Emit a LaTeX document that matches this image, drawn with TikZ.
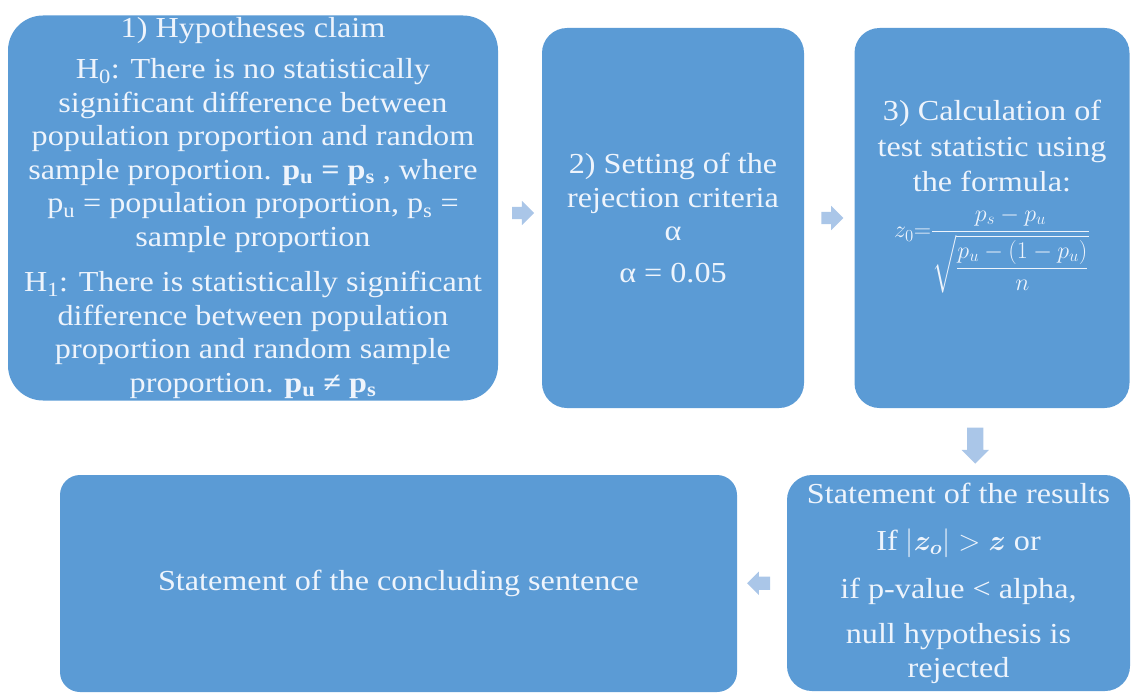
\documentclass[tikz,border=0pt]{standalone}
\usepackage{fix-cm}
\usepackage{amsmath,amssymb}
\usepackage{fontspec}
\setmainfont{Liberation Serif}[FakeStretch=1.11]
\usepackage{tikz}
\usetikzlibrary{calc,shapes.arrows}
\definecolor{boxblue}{RGB}{91,155,213}
\definecolor{boxtext}{RGB}{238,244,252}
\definecolor{arrowblue}{RGB}{170,198,232}
\tikzset{
% Two styles for the flow chart: step boxes and small block arrows
step box/.style={rectangle,rounded corners=25,fill=boxblue,text=boxtext,align=center,inner sep=0,font=\fontsize{29}{33.5}\selectfont},
flow arrow/.style={single arrow,fill=arrowblue,inner xsep=0,inner ysep=6,minimum height=22,single arrow head extend=6}
}

\begin{document}
\begin{tikzpicture}[x=1pt,y=-1pt]
        \useasboundingbox (0,0) rectangle (1134,693);
        % The steps
        \node(hyp)[step box,minimum width=490,minimum height=385,rounded corners=35] at (253,208){1) Hypotheses claim\\[8pt]
          H\textsubscript{0}: There is no statistically\\
          significant difference between\\
          population proportion and random\\
          sample proportion. \textbf{p\textsubscript{u} = p\textsubscript{s}} , where\\
          p\textsubscript{u} = population proportion, p\textsubscript{s} =\\
          sample proportion\\[12pt]
          H\textsubscript{1}: There is statistically significant\\
          difference between population\\
          proportion and random sample\\
          proportion. \textbf{p\textsubscript{u} ≠ p\textsubscript{s}}};
        \node(rej)[step box,minimum width=262,minimum height=380] at (673,218){2) Setting of the\\
          rejection criteria\\ α\\[8pt] α = 0.05};
        \node(calc)[step box,minimum width=275,minimum height=380] at (992,218){};
        \node(calc text)[text=boxtext,align=center,anchor=north,font=\fontsize{29}{35.5}\selectfont] at (992,97){3) Calculation of\\
          test statistic using\\ the formula:\\[10pt]
          {\fontsize{24}{28}\selectfont$z_0{=}\dfrac{p_s - p_u}{\sqrt{\dfrac{p_u -(1-p_u)}{n}}}$}};
        \node(res)[step box,minimum width=343,minimum height=216] at (958.5,583){Statement of the results\\[14pt]
          If $|\boldsymbol{z_o}| > \boldsymbol{z}$ or\\[14pt]
          if p-value < alpha,\\[12pt]
          null hypothesis is\\ rejected};
        \node(conc)[step box,minimum width=677,minimum height=217,rounded corners=20] at (398.5,583.5){Statement of the concluding sentence};
        % Block arrows between the steps
        \node(a1)[flow arrow] at ($(hyp.east)!.5!(rej.west)$){};
        \node(a2)[flow arrow] at ($(rej.east)!.5!(calc.west)$){};
        \node(a3)[flow arrow,shape border rotate=270,inner xsep=8,inner ysep=0,minimum height=36,single arrow head extend=5.5] at ($(calc.south)!.5!(res.north)$){};
        \node(a4)[flow arrow,shape border rotate=180,inner ysep=6.5,minimum height=23,single arrow head extend=5] at ($(res.west)!.5!(conc.east)$){};
      \end{tikzpicture}
\end{document}
